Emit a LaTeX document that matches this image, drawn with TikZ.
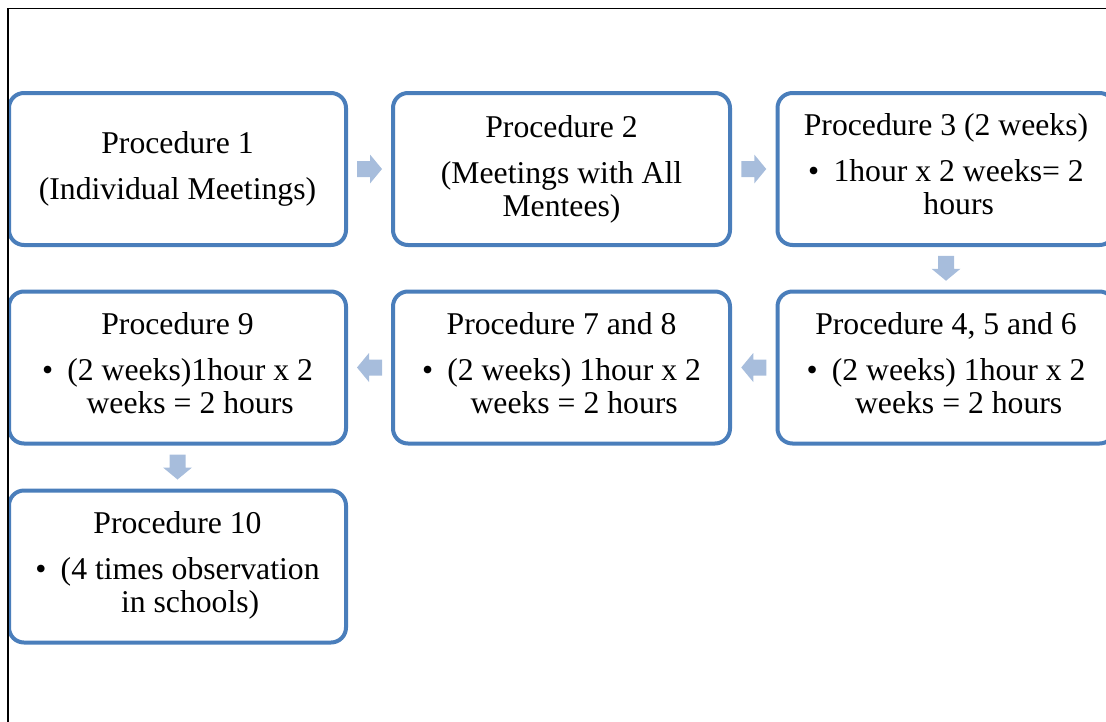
\documentclass[tikz,border=0pt]{standalone}
\usepackage{fontspec}
\setmainfont{Liberation Serif}
\usetikzlibrary{calc}
\definecolor{boxblue}{RGB}{74,126,187}
\definecolor{arrowblue}{RGB}{167,189,220}
\newcommand{\bul}[2]{\mbox{•\hspace{0.45em}\begin{tabular}[t]{@{}c@{}}#1\\#2\end{tabular}}}
\tikzset{
  procbox/.style={draw=boxblue, line width=4pt, rounded corners=15pt, fill=white,
    minimum width=337pt, minimum height=152pt, inner sep=0pt, align=center,
    font=\fontsize{31.7}{33}\selectfont},
  flowarrow/.pic={\fill[arrowblue] (-12.5,-8) -- (0.5,-8) -- (0.5,-14.5) -- (12.5,0) -- (0.5,14.5) -- (0.5,8) -- (-12.5,8) -- cycle;}
}
\begin{document}
\begin{tikzpicture}[x=1pt,y=-1pt]
\useasboundingbox (0,0) rectangle (1106,721);
\clip (0,0) rectangle (1106,721);
\node[procbox] (p1) at (177.5,169) {Procedure 1\\[13pt](Individual Meetings)};
\node[procbox] (p2) at (561.5,169) {Procedure 2\\[13pt](Meetings with All\\Mentees)};
\node[procbox] (p3) at (946,169) {Procedure 3 (2 weeks)\\[13pt]\bul{1hour x 2 weeks= 2}{hours}};
\node[procbox] (p456) at (946,367.5) {Procedure 4, 5 and 6\\[13pt]\bul{(2 weeks) 1hour x 2}{weeks = 2 hours}};
\node[procbox] (p78) at (561.5,367.5) {Procedure 7 and 8\\[13pt]\bul{(2 weeks) 1hour x 2}{weeks = 2 hours}};
\node[procbox] (p9) at (177.5,367.5) {Procedure 9\\[13pt]\bul{(2 weeks)1hour x 2}{weeks = 2 hours}};
\node[procbox] (p10) at (177.5,566.5) {Procedure 10\\[13pt]\bul{(4 times observation}{in schools)}};
\path ($(p1.east)!0.5!(p2.west)$) pic {flowarrow};
\path ($(p2.east)!0.5!(p3.west)$) pic {flowarrow};
\path ($(p3.south)!0.5!(p456.north)$) pic[rotate=-90] {flowarrow};
\path ($(p456.west)!0.5!(p78.east)$) pic[rotate=180] {flowarrow};
\path ($(p78.west)!0.5!(p9.east)$) pic[rotate=180] {flowarrow};
\path ($(p9.south)!0.5!(p10.north)$) pic[rotate=-90] {flowarrow};
\draw[line width=1.5pt] (1120,8.5) -- (8,8.5) -- (8,730);
\end{tikzpicture}
\end{document}
